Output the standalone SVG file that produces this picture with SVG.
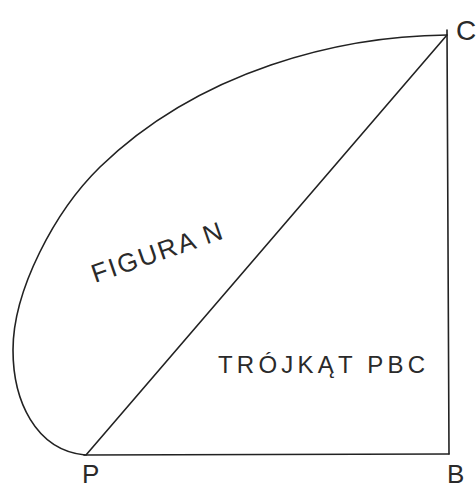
<svg xmlns="http://www.w3.org/2000/svg" width="476" height="488" viewBox="0 0 476 488">
<style>
.ln{fill:none;stroke:#222;stroke-width:1.6;stroke-linecap:round;stroke-linejoin:round}
.lb{font-family:"Liberation Sans",Arial,sans-serif;fill:#2a2a2a;font-weight:normal}
</style>
<rect width="476" height="488" fill="#fff"/>
<g id="connectors">
<path id="curve-CP" class="ln" d="M447,35 C 340,36 200,70 100,167 C 55,211 13,290 13,350 C 13,400 35,450 85,455"/>
<path id="diag-PC" class="ln" d="M86,455 L447,35"/>
<path id="side-CB" class="ln" d="M447,30 L449,454"/>
<path id="side-PB" class="ln" d="M84,455 L449,454"/>
</g>
<g id="node-C"><text class="lb" x="456" y="40" font-size="28">C</text></g>
<g id="node-P"><text class="lb" x="82" y="483" font-size="26">P</text></g>
<g id="node-B"><text class="lb" x="447" y="483" font-size="26">B</text></g>
<g id="label-figura"><text class="lb" x="0" y="0" font-size="26" transform="translate(95,283) rotate(-19)" letter-spacing="2">FIGURA N</text></g>
<g id="label-trojkat"><text class="lb" x="218" y="373" font-size="24" textLength="207" lengthAdjust="spacing">TRÓJKĄT  PBC</text></g>
</svg>
